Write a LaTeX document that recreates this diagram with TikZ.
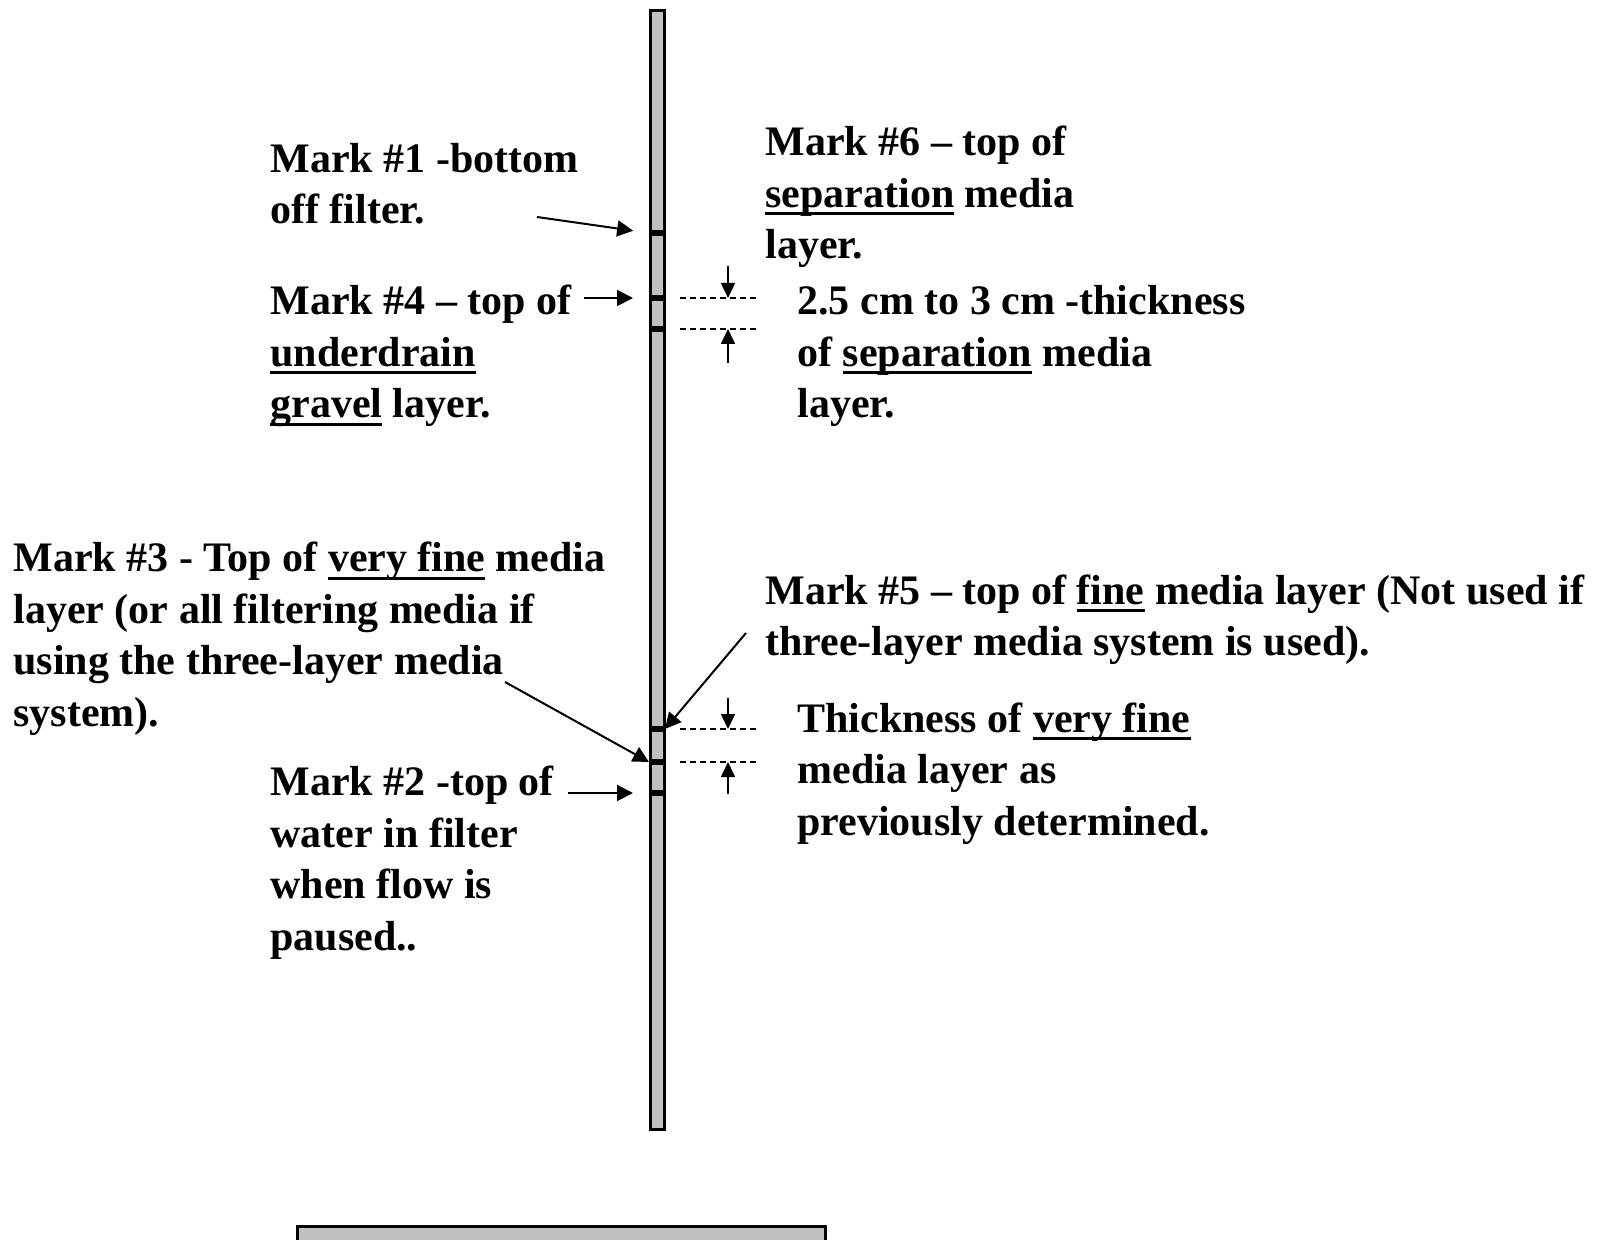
\documentclass[tikz,border=0pt]{standalone}
\usepackage{fontspec}
\setmainfont{Liberation Serif}
\usetikzlibrary{arrows.meta}
\definecolor{rodgray}{RGB}{192,192,192}
\newcommand{\ulword}[1]{\setbox0\hbox{#1}\rlap{\rule[-4pt]{\wd0}{1.5pt}}\box0\relax}

\begin{document}
\begin{tikzpicture}[x=0.5pt,y=-0.5pt,
    lbl/.style={anchor=base west, align=left, inner sep=0pt,
      font=\bfseries\fontsize{21pt}{25.75pt}\selectfont},
    tick/.style={line width=3pt},
    ptr/.style={line width=1pt, -{Triangle[length=8pt,width=8pt]}},
    dimline/.style={line width=0.75pt, dash pattern=on 3pt off 2pt},
    dimarr/.style={line width=0.8pt, -{Triangle[length=7.5pt,width=7pt]}}]
    \useasboundingbox (0,0) rectangle (1612,1240);
    % filter rod and base
    \draw[line width=1.5pt, fill=rodgray] (650,11) rectangle (664,1129);
    \draw[line width=1.5pt, fill=rodgray] (297,1226) rectangle (825,1262);
    \foreach \name/\yy in {m1/233, m4/298, m6/329, m5/729, m3/762, m2/793} {
        \draw[tick] (649,\yy) -- (665,\yy);
        \coordinate (\name L) at (649,\yy);
        \coordinate (\name R) at (665,\yy);
    }
    % labels (placed at the baseline of their last line)
    \node[lbl] (mk1) at (270,224) {Mark \#1 -bottom\\off filter.};
    \node[lbl] (mk6) at (765,259) {Mark \#6 – top of\\\ulword{separation} media\\layer.};
    \node[lbl] (mk4) at (270,418) {Mark \#4 – top of\\\ulword{underdrain}\\\ulword{gravel} layer.};
    \node[lbl] (sep) at (797,418) {2.5 cm to 3 cm -thickness\\of \ulword{separation} media\\layer.};
    \node[lbl] (mk3) at (13,726) {Mark \#3 - Top of \ulword{very fine} media\\layer (or all filtering media if\\using the three-layer media\\system).};
    \node[lbl] (mk5) at (765,656) {Mark \#5 – top of \ulword{fine} media layer (Not used if\\three-layer media system is used).};
    \node[lbl] (vf) at (797,835) {Thickness of \ulword{very fine}\\media layer as\\previously determined.};
    \node[lbl] (mk2) at (270,950) {Mark \#2 -top of\\water in filter\\when flow is\\paused..};
    % pointers
    \coordinate (a1) at (537,217);
    \coordinate (a4) at (584,298);
    \coordinate (a3) at (505,682);
    \coordinate (a5) at (746,633);
    \coordinate (a2) at (568,793);
    \draw[ptr, shorten >=8pt] (a1) -- (m1L);
    \draw[ptr, shorten >=8pt] (a4) -- (m4L);
    \draw[ptr] (a3) -- (m3L);
    \draw[ptr] (a5) -- (m5R);
    \draw[ptr, shorten >=8pt] (a2) -- (m2L);
    % thickness dimensions
    \draw[dimline] (680,298) -- (758,298);
    \draw[dimline] (680,329) -- (758,329);
    \draw[dimline] (680,729) -- (758,729);
    \draw[dimline] (680,762) -- (758,762);
    \draw[dimarr] (728,266) -- (728,298);
    \draw[dimarr] (728,363) -- (728,329);
    \draw[dimarr] (728,698) -- (728,729);
    \draw[dimarr] (728,794) -- (728,762);
\end{tikzpicture}
\end{document}
